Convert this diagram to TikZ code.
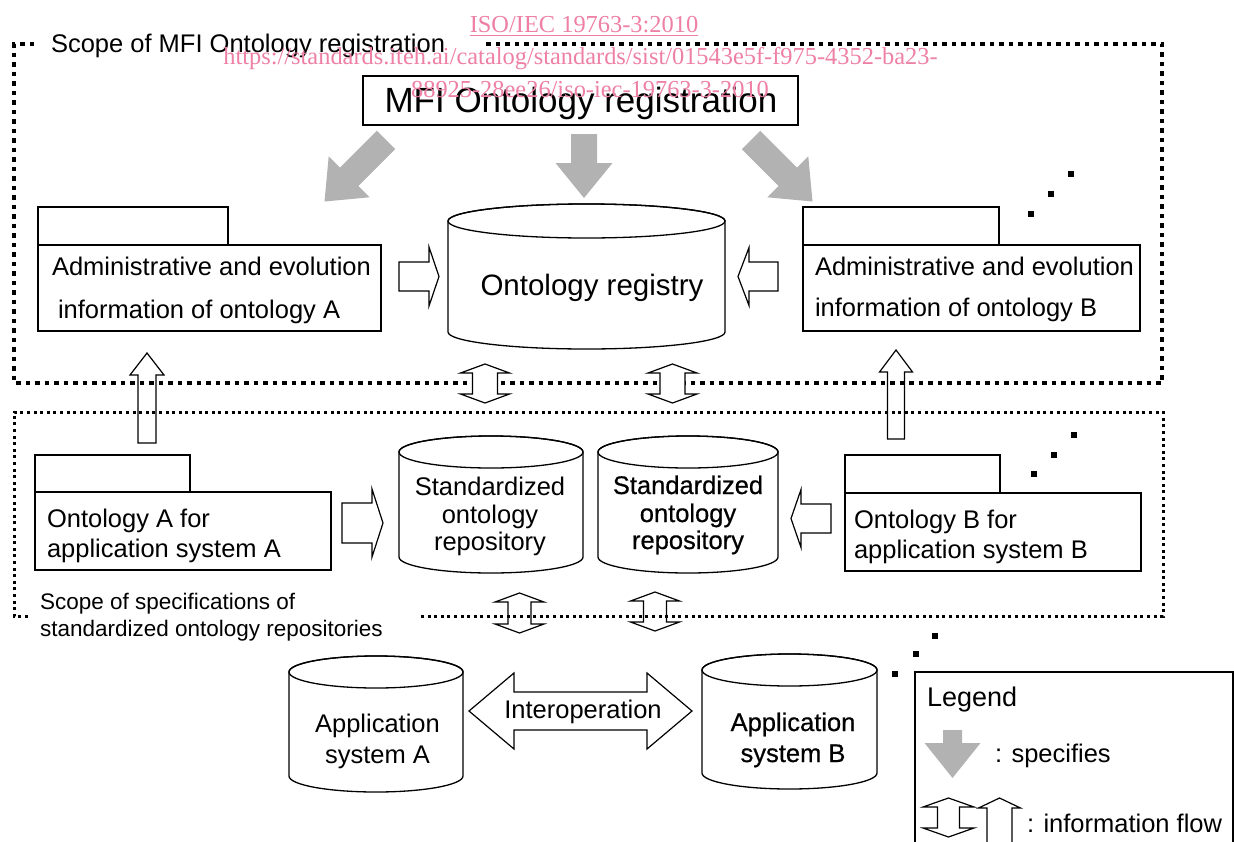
\documentclass[tikz,border=0pt]{standalone}
\usepackage{fontspec}
\setmainfont{Liberation Sans}
\newfontfamily\wmfont{Liberation Serif}
\newfontfamily\fbfont[FakeBold=0.6]{Liberation Sans}
\newcommand\fsz[1]{\fontsize{#1}{#1}\selectfont}
\definecolor{wmpink}{RGB}{238,128,165}
\definecolor{specgray}{RGB}{178,178,178}
% block arrow: style, tail x, tail y (px down), angle, length, head length, head half width, shaft half width
\newcommand\blockarrow[8]{%
 \begin{scope}[shift={(#2,-#3)}, rotate=#4]
 \path[#1] (0,-#8) -- ({#5-#6},-#8) -- ({#5-#6},-#7) -- (#5,0) -- ({#5-#6},#7) -- ({#5-#6},#8) -- (0,#8) -- cycle;
 \end{scope}}
% double arrow: style, centre x, centre y, angle, length, head length, head half width, shaft half width
\newcommand\dblarrow[8]{%
 \begin{scope}[shift={(#2,-#3)}, rotate=#4]
 \path[#1] ({-#5/2},0) -- ({-#5/2+#6},#7) -- ({-#5/2+#6},#8) -- ({#5/2-#6},#8) -- ({#5/2-#6},#7) -- ({#5/2},0) -- ({#5/2-#6},-#7) -- ({#5/2-#6},-#8) -- ({-#5/2+#6},-#8) -- ({-#5/2+#6},-#7) -- cycle;
 \end{scope}}
% cylinder: x left, x right, top ellipse centre y, bottom ellipse centre y, y radius
\newcommand\cylpath[5]{%
 \pgfmathsetmacro\cylrx{(#2-#1)/2}%
 \pgfmathsetmacro\cylcx{(#1+#2)/2}%
 \path[cyl, fill=white] (#1,-#3) -- (#1,-#4) arc[start angle=180,end angle=360,x radius=\cylrx pt,y radius=#5pt] -- (#2,-#3) arc[start angle=0,end angle=180,x radius=\cylrx pt,y radius=#5pt] -- cycle;
 \draw[cyl] (\cylcx,-#3) ellipse[x radius=\cylrx pt,y radius=#5pt];}
\newcommand\sqdot[2]{\fill (#1-2.75,-#2-2.75) rectangle ++(5.5,5.5);}
\begin{document}
\begin{tikzpicture}[x=1pt,y=1pt,
  box/.style={draw, line width=1.3pt, inner sep=0, outer sep=0, fill=white},
  txt/.style={inner sep=0, outer sep=0, font=\fsz{25.5}},
  cyl/.style={draw, line width=1.3pt},
  hollow/.style={draw, line width=1.2pt, fill=white},
  hollowopen/.style={draw, line width=1.2pt},
  spec/.style={fill=specgray},
  bigdots/.style={line width=4.5pt, dash pattern=on 4.5pt off 5pt},
  smalldots/.style={line width=3pt, dash pattern=on 3pt off 3.6pt},
  wm/.style={inner sep=0, outer sep=0, text=wmpink, font=\wmfont\fsz{24.4}}]
\useasboundingbox (0,0) rectangle (1234,-841);

% scope of MFI Ontology registration
\node[txt, anchor=base west] (scopeMFI) at (51,-52) {Scope of MFI Ontology registration};
\draw[bigdots] (34,-44) -- (14,-44) -- (14,-383) -- (1162,-383) -- (1162,-44) -- (484,-44);

% scope of specifications
\node[txt, font=\fsz{22.5}, anchor=base west] (scopeSp1) at (40,-609) {Scope of specifications of};
\node[txt, font=\fsz{22.5}, anchor=base west] (scopeSp2) at (40,-636) {standardized ontology repositories};
\draw[smalldots] (28,-616) -- (14,-616) -- (14,-412) -- (1163,-412) -- (1163,-616) -- (421,-616);

% MFI Ontology registration
\node[box, minimum width=435, minimum height=49, anchor=north west] (mfi) at (363,-76) {};
\node[txt, font=\fsz{35}, anchor=base] (mfiT) at (581,-112) {MFI Ontology registration};

% specifies arrows
\blockarrow{spec}{386}{140}{225}{87}{35}{29}{13}
\blockarrow{spec}{751}{140}{-45}{87}{35}{29}{13}
\blockarrow{spec}{584}{134}{-90}{64}{35}{28.5}{13}

% administrative boxes
\node[box, minimum width=343, minimum height=86, anchor=north west] (admA) at (38,-245) {};
\node[box, minimum width=190, minimum height=38, anchor=south west] (admAtab) at (admA.north west) {};
\node[txt, anchor=base west] (admA1) at (52,-275) {Administrative and evolution};
\node[txt, anchor=base west] (admA2) at (58,-318) {information of ontology A};

\node[box, minimum width=337, minimum height=86, anchor=north west] (admB) at (803,-245) {};
\node[box, minimum width=196, minimum height=38, anchor=south west] (admBtab) at (admB.north west) {};
\node[txt, anchor=base west] (admB1) at (815,-275) {Administrative and evolution};
\node[txt, anchor=base west] (admB2) at (815,-316) {information of ontology B};

% ontology registry
\cylpath{448}{725}{221}{332}{17}
\node[txt, font=\fsz{29.5}, anchor=base] (regT) at (592,-295) {Ontology registry};
\blockarrow{hollow}{399}{276.5}{0}{40}{10}{29.5}{14.5}
\blockarrow{hollow}{778}{276.5}{180}{40}{11}{29}{14.5}

% registry <-> repositories
\dblarrow{hollow}{485}{383.5}{90}{39}{9}{24.5}{12.5}
\dblarrow{hollow}{672.5}{383.5}{90}{39}{9}{24.5}{12.5}

% ontology -> administrative
\blockarrow{hollowopen}{147}{443}{90}{90}{22}{17}{9}
\blockarrow{hollowopen}{896}{439}{90}{89}{22}{16.5}{8.5}

% ontology boxes
\node[box, minimum width=296, minimum height=78, anchor=north west] (ontA) at (35,-492) {};
\node[box, minimum width=155, minimum height=37, anchor=south west] (ontAtab) at (ontA.north west) {};
\node[txt, anchor=base west] (ontA1) at (47,-527) {Ontology A for};
\node[txt, anchor=base west] (ontA2) at (47,-557) {application system A};

\node[box, minimum width=296, minimum height=78, anchor=north west] (ontB) at (845,-493) {};
\node[box, minimum width=155, minimum height=38, anchor=south west] (ontBtab) at (ontB.north west) {};
\node[txt, anchor=base west] (ontB1) at (854,-528) {Ontology B for};
\node[txt, anchor=base west] (ontB2) at (854,-558) {application system B};

\blockarrow{hollow}{342}{523}{0}{41}{11}{34}{20}
\blockarrow{hollow}{831}{518.5}{180}{40}{10}{29}{14.5}

% standardized repositories
\cylpath{399}{583}{452}{557}{16}
\node[txt, anchor=base] (rep1a) at (490,-495) {Standardized};
\node[txt, anchor=base] (rep1b) at (490,-523) {ontology};
\node[txt, anchor=base] (rep1c) at (490,-550) {repository};
\cylpath{598}{778}{452}{557}{16}
\node[txt, font=\fbfont\fsz{25.5}, anchor=base] (rep2a) at (688,-494) {Standardized};
\node[txt, font=\fbfont\fsz{25.5}, anchor=base] (rep2b) at (688,-522) {ontology};
\node[txt, font=\fbfont\fsz{25.5}, anchor=base] (rep2c) at (688,-549) {repository};

% repositories <-> applications
\dblarrow{hollowopen}{519.5}{613}{90}{40}{9}{24.5}{11.5}
\dblarrow{hollowopen}{655}{611.5}{90}{39}{9}{24.5}{11.5}

% application systems
\cylpath{289}{463}{672}{776}{16}
\node[txt, anchor=base] (appA1) at (377.5,-732) {Application};
\node[txt, anchor=base] (appA2) at (377.5,-763) {system A};
\cylpath{702}{877}{670}{773}{16}
\node[txt, font=\fbfont\fsz{25.5}, anchor=base] (appB1) at (793,-731) {Application};
\node[txt, font=\fbfont\fsz{25.5}, anchor=base] (appB2) at (793,-762) {system B};

\dblarrow{hollow}{580.5}{711}{0}{223}{45}{38}{19}
\node[txt, anchor=base] (interT) at (583,-718) {Interoperation};

% ellipsis dots
\sqdot{1031}{214}\sqdot{1051}{194}\sqdot{1071}{174}
\sqdot{1034}{474}\sqdot{1054}{455}\sqdot{1074}{435}
\sqdot{895}{674}\sqdot{916}{654}\sqdot{935}{636}

% legend
\node[box, fill=none, anchor=north west, minimum width=318, minimum height=200] (legend) at (915,-672) {};
\node[txt, font=\fsz{27}, anchor=base west] (legT) at (927,-706) {Legend};
\blockarrow{spec}{952.5}{730}{-90}{48}{35}{28}{9.5}
\node[txt, anchor=base west] (legS) at (995,-762) {: specifies};
\dblarrow{hollowopen}{948.5}{817.5}{90}{39}{9}{25.5}{11}
\blockarrow{hollowopen}{999.5}{860}{90}{62}{10}{21}{12.5}
\node[txt, anchor=base west] (legI) at (1027,-832) {: information flow};

% watermark
\node[wm, anchor=base] (wm1) at (584,-32) {ISO/IEC 19763-3:2010};
\draw[wmpink, line width=1pt] ([yshift=-3pt]wm1.base west) -- ([yshift=-3pt]wm1.base east);
\node[wm, anchor=base] (wm2) at (580.5,-64) {https://standards.iteh.ai/catalog/standards/sist/01543e5f-f975-4352-ba23-};
\node[wm, anchor=base] (wm3) at (590,-97) {88925-28ee26/iso-iec-19763-3-2010};
\end{tikzpicture}
\end{document}
